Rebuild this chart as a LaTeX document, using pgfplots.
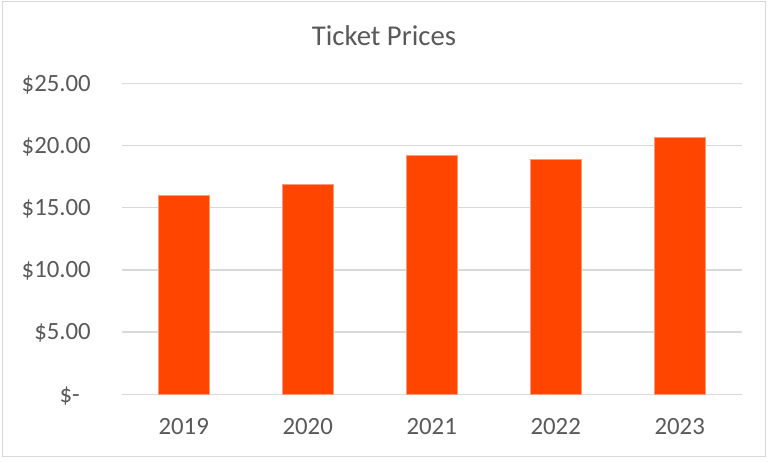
\documentclass[border=0pt]{standalone}
\usepackage{pgfplots}
\pgfplotsset{compat=1.18}
\usepackage{fontspec}
\setmainfont{Carlito}

\definecolor{barorange}{HTML}{FF4500}
\definecolor{baredge}{HTML}{FF9A7A}
\definecolor{gridgray}{HTML}{D9D9D9}
\definecolor{textgray}{HTML}{595959}

\begin{document}
\begin{tikzpicture}
% canvas and outer frame, 1pt = 1px of the reference
\path[use as bounding box] (0,0) rectangle (768pt,461pt);
\draw[gridgray, line width=1pt] (2.7pt,4.5pt) rectangle (765pt,459pt);

\begin{axis}[
    at={(121.7pt,66.7pt)}, anchor=south west,
    scale only axis,
    width=620pt, height=311pt,
    xmin=-0.5, xmax=4.5,
    ymin=0, ymax=25,
    xtick=data,
    xticklabels={2019,2020,2021,2022,2023},
    ytick={0,5,10,15,20,25},
    yticklabels={\$-\kern11pt,\$5.00,\$10.00,\$15.00,\$20.00,\$25.00},
    /pgf/number format/assume math mode=true,
    axis line style={draw=none},
    major tick length=0pt,
    ymajorgrids=true,
    grid style={gridgray, line width=1.3pt},
    ticklabel style={font=\fontsize{24.8}{29}\selectfont, text=textgray, inner sep=0pt},
    yticklabel style={anchor=base east, xshift=-30.7pt, yshift=-7.8pt},
    xticklabel style={anchor=center, yshift=-32.7pt},
    title={Ticket Prices},
    title style={at={(0.5,1)}, anchor=base, xshift=-47.7pt, yshift=31.5pt, inner sep=0pt,
        font=\fontsize{28.7}{34}\selectfont, text=textgray},
    ybar, bar width=51pt,
]
\addplot[fill=barorange, draw=baredge, line width=0.6pt]
    coordinates {(0,15.96) (1,16.88) (2,19.18) (3,18.86) (4,20.63)};
\end{axis}
\end{tikzpicture}
\end{document}
